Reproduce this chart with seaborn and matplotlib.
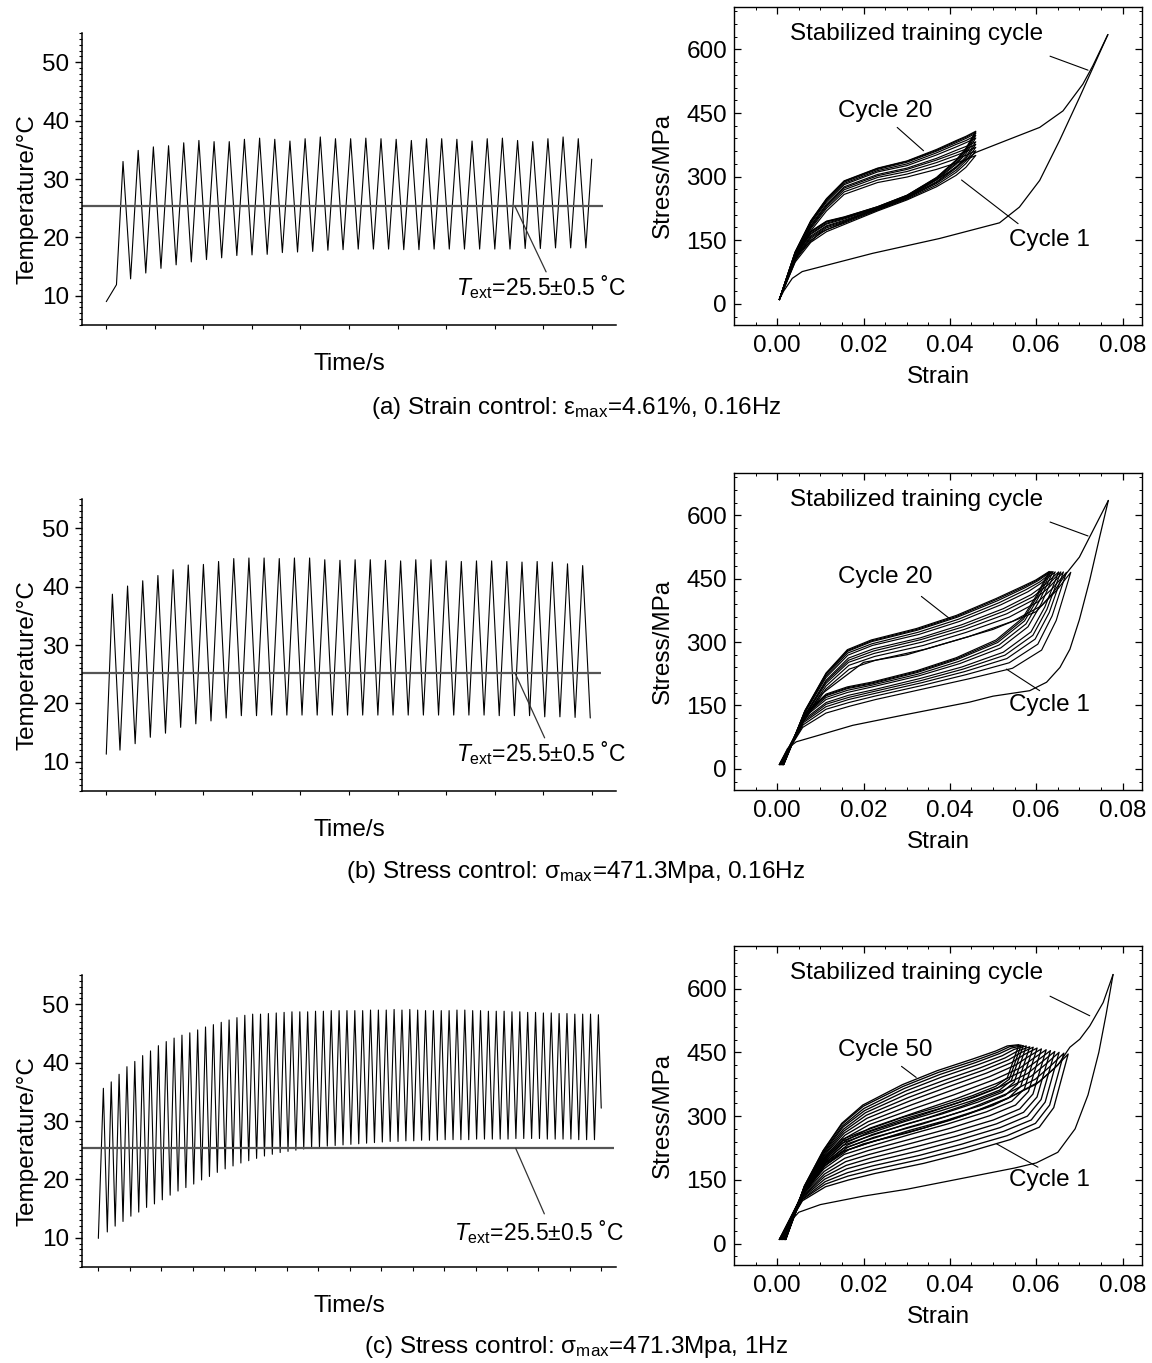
import numpy as np
import pandas as pd
import matplotlib
matplotlib.use("Agg")
import matplotlib.pyplot as plt
from matplotlib.ticker import MultipleLocator, FormatStrFormatter
import seaborn as sns

# ---------------- temperature traces (peak / valley of every cycle) ----------------
# time axis has no units on the figure, so it is expressed in tick spacings
# (a) strain control, 0.16 Hz
a_start = [(0.0, 9.0), (0.21, 11.9)]
a_t0, a_period = 0.345, 0.3126
a_peaks = [33.0, 34.9, 35.5, 35.7, 36.2, 36.6, 36.4, 36.4, 36.8, 37.0,
           36.8, 36.5, 36.9, 37.2, 36.9, 36.9, 37.0, 36.9, 36.8, 36.6,
           36.9, 36.9, 36.8, 36.5, 36.9, 37.0, 36.6, 36.4, 36.9, 37.2, 36.9]
a_valleys = [12.9, 13.9, 14.7, 15.3, 15.8, 16.2, 16.5, 16.9, 17.0, 17.1,
             17.4, 17.5, 17.6, 17.8, 17.9, 18.0, 18.0, 18.0, 17.9, 17.9,
             18.0, 18.0, 18.0, 18.0, 18.0, 18.0, 18.1, 18.1, 18.2, 18.2, 18.2]
a_end = (10.0, 33.4)

# (b) stress control, 0.16 Hz
b_start = [(0.0, 11.3)]
b_t0, b_period = 0.126, 0.3125
b_peaks = [38.7, 40.1, 41.0, 41.9, 42.9, 43.7, 43.8, 44.3, 44.8, 44.9,
           44.9, 44.8, 44.9, 44.9, 44.6, 44.5, 44.6, 44.6, 44.5, 44.4,
           44.6, 44.6, 44.4, 44.3, 44.4, 44.4, 44.3, 44.2, 44.3, 44.2, 43.9, 43.6]
b_valleys = [12.0, 13.1, 14.2, 14.9, 15.9, 16.5, 17.0, 17.5, 17.9, 17.9,
             18.0, 18.0, 18.0, 18.0, 18.0, 18.0, 18.0, 18.0, 18.0, 18.0,
             18.0, 18.0, 18.0, 18.0, 18.0, 17.9, 17.9, 17.9, 17.7, 17.7, 17.6, 17.5]
b_end = None

# (c) stress control, 1 Hz
c_start = [(0.0, 9.9)]
c_t0, c_period = 0.16, 0.25
c_peaks = [35.6, 36.7, 38.0, 39.3, 40.2, 41.2, 42.0, 42.9, 43.6, 44.2,
           44.7, 45.1, 45.6, 46.1, 46.5, 46.9, 47.3, 47.7, 48.1, 48.3,
           48.3, 48.4, 48.5, 48.6, 48.7, 48.7, 48.7, 48.8, 48.8, 48.9,
           48.9, 48.9, 48.9, 48.9, 49.0, 49.0, 49.0, 49.1, 49.0, 49.1,
           49.0, 48.9, 48.9, 48.9, 48.9, 49.0, 49.0, 48.9, 48.9, 48.8,
           48.8, 48.8, 48.7, 48.7, 48.6, 48.6, 48.5, 48.5, 48.4, 48.4,
           48.3, 48.3, 48.3, 48.2]
c_valleys = [11.0, 12.0, 12.8, 13.7, 14.4, 15.2, 15.8, 16.5, 17.3, 18.0,
             18.6, 19.2, 19.9, 20.5, 21.2, 21.8, 22.3, 22.8, 23.2, 23.6,
             24.0, 24.3, 24.6, 24.8, 25.0, 25.2, 25.4, 25.5, 25.7, 25.8,
             25.9, 26.0, 26.1, 26.2, 26.3, 26.4, 26.5, 26.5, 26.6, 26.6,
             26.7, 26.7, 26.7, 26.8, 26.8, 26.8, 26.8, 26.9, 26.9, 26.9,
             26.9, 26.9, 27.0, 27.0, 27.0, 27.0, 26.9, 26.9, 26.9, 26.9,
             26.8, 26.8, 26.8]
c_end = (16.0, 32.2)

t_ext = [25.3, 25.2, 25.3]

# ---------------- stress-strain loops ----------------
# each loop: stresses read at fractions of its own strain span (start -> tip)
u_frac = [0.0, 0.08, 0.16, 0.24, 0.33, 0.5, 0.65, 0.8, 0.9, 0.95, 1.0]

a_e0 = [0.0005] * 10
a_emax = [0.046] * 10
a_load = [
    [10, 106, 172, 219, 258, 286, 299, 317, 332, 340, 350],
    [10, 109, 177, 225, 264, 292, 306, 326, 342, 350, 361],
    [10, 111, 180, 229, 269, 298, 312, 333, 350, 359, 369],
    [10, 113, 183, 232, 273, 302, 317, 339, 356, 365, 376],
    [10, 115, 185, 235, 276, 305, 320, 343, 362, 371, 382],
    [10, 118, 189, 240, 281, 311, 326, 351, 370, 380, 391],
    [10, 119, 192, 243, 284, 314, 330, 356, 376, 385, 397],
    [10, 121, 194, 245, 287, 317, 334, 360, 380, 390, 402],
    [10, 121, 195, 247, 289, 319, 336, 362, 383, 393, 405],
    [10, 122, 196, 248, 290, 320, 337, 364, 385, 395, 407],
]
a_unload = [
    [10, 98, 145, 170, 187, 219, 245, 276, 303, 322, 350],
    [10, 102, 150, 175, 190, 221, 247, 280, 310, 331, 361],
    [10, 105, 154, 179, 193, 222, 249, 284, 315, 337, 369],
    [10, 107, 157, 182, 195, 224, 250, 286, 320, 343, 376],
    [10, 109, 160, 184, 197, 225, 251, 288, 323, 347, 382],
    [10, 112, 164, 188, 200, 226, 253, 292, 329, 354, 391],
    [10, 114, 166, 190, 202, 227, 254, 294, 332, 359, 397],
    [10, 116, 169, 193, 203, 228, 255, 296, 336, 363, 402],
    [10, 117, 170, 194, 204, 229, 256, 297, 338, 365, 405],
    [10, 118, 171, 195, 205, 229, 256, 298, 339, 367, 407],
]

b_e0 = [0.0005, 0.0007, 0.0008, 0.0010, 0.0011, 0.0012, 0.0013, 0.0014, 0.0015, 0.0015]
b_emax = [0.0680, 0.0670, 0.0663, 0.0657, 0.0652, 0.0644, 0.0639, 0.0635, 0.0632, 0.0630]
b_load = [
    [10, 109, 189, 236, 257, 283, 313, 349, 386, 421, 465],
    [10, 115, 196, 245, 266, 292, 323, 359, 395, 426, 465],
    [10, 119, 202, 252, 273, 300, 330, 367, 402, 430, 466],
    [10, 122, 207, 257, 279, 306, 336, 374, 407, 433, 466],
    [10, 125, 210, 262, 284, 310, 341, 379, 412, 436, 466],
    [10, 130, 216, 269, 292, 318, 349, 388, 419, 440, 466],
    [10, 133, 220, 274, 296, 323, 354, 393, 424, 442, 467],
    [10, 135, 224, 278, 301, 328, 359, 398, 428, 445, 467],
    [10, 137, 226, 280, 303, 330, 361, 401, 430, 446, 467],
    [10, 138, 227, 282, 305, 332, 363, 403, 432, 447, 467],
]
b_unload = [
    [10, 98, 132, 148, 164, 190, 213, 238, 281, 351, 465],
    [10, 104, 141, 157, 172, 198, 223, 251, 295, 362, 465],
    [10, 109, 147, 164, 178, 204, 230, 261, 307, 370, 466],
    [10, 113, 153, 169, 183, 209, 236, 269, 316, 377, 466],
    [10, 117, 157, 174, 187, 214, 241, 276, 324, 383, 466],
    [10, 122, 164, 181, 194, 220, 249, 286, 336, 392, 466],
    [10, 125, 169, 186, 198, 224, 254, 293, 343, 398, 467],
    [10, 128, 173, 190, 201, 228, 259, 299, 350, 403, 467],
    [10, 130, 175, 192, 203, 230, 261, 302, 354, 406, 467],
    [10, 131, 177, 194, 205, 232, 263, 305, 357, 408, 467],
]

c_e0 = [0.0005, 0.0006, 0.0008, 0.0009, 0.0010, 0.0012, 0.0013,
        0.0014, 0.0016, 0.0017, 0.0018, 0.0019, 0.0019, 0.0020]
c_emax = [0.0674, 0.0664, 0.0653, 0.0643, 0.0633, 0.0623, 0.0612,
          0.0602, 0.0593, 0.0585, 0.0577, 0.0570, 0.0565, 0.0560]
c_load = [
    [10, 114, 185, 221, 242, 272, 304, 345, 381, 411, 446],
    [10, 116, 188, 227, 250, 281, 313, 353, 387, 416, 448],
    [10, 118, 191, 232, 257, 290, 323, 361, 394, 421, 450],
    [10, 120, 194, 238, 265, 300, 332, 369, 400, 426, 452],
    [10, 122, 197, 243, 272, 309, 341, 377, 407, 430, 454],
    [10, 124, 200, 249, 280, 318, 350, 385, 413, 435, 456],
    [10, 126, 203, 255, 287, 327, 360, 393, 420, 440, 458],
    [10, 128, 206, 260, 295, 336, 369, 401, 426, 445, 460],
    [10, 130, 209, 265, 302, 344, 377, 408, 432, 449, 462],
    [10, 131, 212, 269, 308, 352, 384, 414, 437, 453, 463],
    [10, 133, 214, 274, 313, 359, 392, 421, 442, 457, 465],
    [10, 134, 216, 277, 318, 365, 398, 426, 447, 460, 466],
    [10, 135, 218, 281, 323, 370, 403, 430, 450, 463, 467],
    [10, 136, 219, 283, 326, 374, 407, 434, 453, 465, 468],
]
c_unload = [
    [10, 101, 134, 150, 165, 189, 215, 245, 274, 320, 446],
    [10, 104, 140, 159, 174, 199, 225, 254, 283, 326, 448],
    [10, 106, 146, 167, 183, 208, 234, 264, 291, 333, 450],
    [10, 109, 152, 176, 192, 218, 244, 273, 300, 339, 452],
    [10, 111, 158, 184, 201, 228, 253, 282, 309, 345, 454],
    [10, 114, 164, 193, 210, 238, 263, 291, 317, 352, 456],
    [10, 117, 170, 201, 219, 247, 272, 301, 326, 358, 458],
    [10, 119, 176, 210, 227, 257, 282, 310, 335, 364, 460],
    [10, 122, 181, 218, 235, 266, 290, 318, 342, 370, 462],
    [10, 124, 186, 224, 242, 273, 298, 325, 349, 375, 463],
    [10, 126, 190, 231, 249, 281, 305, 333, 356, 380, 465],
    [10, 127, 194, 237, 255, 287, 312, 339, 361, 384, 466],
    [10, 129, 197, 241, 260, 293, 317, 344, 366, 387, 467],
    [10, 130, 200, 245, 264, 297, 321, 348, 370, 390, 468],
]

# stabilized training cycle (strain, stress)
a_stab_load = ([0.0005, 0.005, 0.01, 0.02, 0.03, 0.04, 0.046, 0.053, 0.0608, 0.0662, 0.0708, 0.0731, 0.0766],
               [10, 120, 168, 212, 250, 312, 357, 385, 416, 455, 518, 561, 635])
a_stab_unload = ([0.0766, 0.07, 0.0654, 0.0608, 0.0561, 0.0515, 0.0376, 0.0221, 0.0058, 0.0035, 0.0015, 0.0005],
                 [635, 486, 385, 291, 228, 191, 154, 119, 76, 60, 30, 10])
b_stab_load = ([0.0005, 0.005, 0.01, 0.02, 0.03, 0.04, 0.05, 0.06, 0.064, 0.0668, 0.07, 0.0724, 0.0767],
               [10, 95, 175, 252, 270, 300, 330, 372, 418, 460, 501, 549, 635])
b_stab_unload = ([0.0767, 0.0747, 0.0724, 0.07, 0.0678, 0.0655, 0.0624, 0.0585, 0.05, 0.0446, 0.0291,
                  0.0175, 0.0098, 0.0044, 0.0024, 0.0005],
                 [635, 549, 447, 353, 283, 240, 205, 185, 172, 158, 127, 103, 80, 64, 48, 10])
c_stab_load = ([0.0005, 0.005, 0.01, 0.015, 0.02, 0.03, 0.04, 0.05, 0.06, 0.065, 0.0678, 0.0701, 0.0724, 0.0755, 0.0778],
               [10, 100, 175, 215, 235, 260, 290, 325, 375, 420, 462, 481, 512, 567, 633])
c_stab_unload = ([0.0778, 0.0762, 0.0745, 0.072, 0.069, 0.065, 0.06, 0.055, 0.05, 0.04, 0.03, 0.02, 0.01,
                  0.005, 0.003, 0.0013, 0.0005],
                 [633, 540, 450, 350, 270, 215, 190, 178, 168, 148, 128, 112, 92, 74, 52, 20, 10])

last_cycle = ["Cycle 20", "Cycle 20", "Cycle 50"]
captions = ["(a) Strain control: ε$_{\\rm max}$=4.61%, 0.16Hz",
            "(b) Stress control: σ$_{\\rm max}$=471.3Mpa, 0.16Hz",
            "(c) Stress control: σ$_{\\rm max}$=471.3Mpa, 1Hz"]

# ---------------- style ----------------
sns.set_theme(style="ticks")
plt.rcParams['font.family'] = ['Liberation Sans', 'DejaVu Sans']
plt.rcParams.update({
    'mathtext.fontset': 'custom',
    'mathtext.rm': 'Liberation Sans',
    'mathtext.it': 'Liberation Sans:italic',
    'mathtext.bf': 'Liberation Sans:bold',
    'text.color': 'black', 'axes.labelcolor': 'black', 'axes.edgecolor': 'black',
    'xtick.color': 'black', 'ytick.color': 'black',
})
FS = 17.5
W, H = 1152, 1363


def temp_trace(start, t0, period, peaks, valleys, end):
    t = [p[0] for p in start]
    T = [p[1] for p in start]
    for k, pk in enumerate(peaks):
        t.append(t0 + k * period)
        T.append(pk)
        if k < len(valleys):
            t.append(t0 + (k + 0.5) * period)
            T.append(valleys[k])
    if end is not None:
        t.append(end[0])
        T.append(end[1])
    return pd.DataFrame({"time": t, "temp": T})


def box(left, top, right, bottom):
    return [left / W, 1 - bottom / H, (right - left) / W, (bottom - top) / H]


fig = plt.figure(figsize=(W / 100, H / 100), dpi=100)

# left panels: temperature
temp_sets = [
    (a_start, a_t0, a_period, a_peaks, a_valleys, a_end, 10, (-0.5, 10.5), 10.23, (8.42, 9.06), 7.2, 11.5),
    (b_start, b_t0, b_period, b_peaks, b_valleys, b_end, 10, (-0.5, 10.5), 10.2, (8.42, 9.03), 7.2, 11.5),
    (c_start, c_t0, c_period, c_peaks, c_valleys, c_end, 16, (-0.52, 16.47), 16.4, (13.28, 14.19), 11.32, 11.0),
]
left_tops = [33, 499, 975]
for i, (st, t0, per, pk, vl, en, nt, xl, line_end, ptr_x, tx, ty) in enumerate(temp_sets):
    top = left_tops[i]
    ax = fig.add_axes(box(82, top, 616, top + 292))
    df = temp_trace(st, t0, per, pk, vl, en)
    sns.lineplot(data=df, x="time", y="temp", ax=ax, color="black", lw=0.8,
                 sort=False, estimator=None)
    ax.hlines(t_ext[i], xl[0], line_end, color="#555555", lw=1.6)
    ax.plot(ptr_x, [t_ext[i], 14.1], color="#333333", lw=0.9)
    ax.text(tx, ty, r"$T_{\rm ext}$=25.5±0.5 ˚C", fontsize=16.5, ha="left", va="center")
    ax.set_xlim(*xl)
    ax.set_ylim(5, 55)
    ax.set_xticks(range(0, nt + 1))
    ax.set_xticklabels([])
    ax.set_yticks([10, 20, 30, 40, 50])
    ax.yaxis.set_minor_locator(MultipleLocator(1))
    ax.tick_params(axis="x", direction="out", length=3, width=0.8)
    ax.tick_params(axis="y", which="major", direction="out", length=5, width=1, labelsize=FS, pad=4)
    ax.tick_params(axis="y", which="minor", direction="out", length=2.5, width=0.8)
    sns.despine(ax=ax)
    for s in ["left", "bottom"]:
        ax.spines[s].set_linewidth(1.1)
    ax.set_xlabel("Time/s", fontsize=FS)
    ax.set_ylabel("Temperature/°C", fontsize=FS)
    ax.xaxis.set_label_coords(0.5, -0.097)
    ax.yaxis.set_label_coords(-0.0815, 0.433)

# right panels: stress-strain
loop_sets = [
    (a_e0, a_emax, a_load, a_unload, a_stab_load, a_stab_unload,
     [(0.0632, 0.072), (584, 551)], [(0.0278, 0.0339), (416, 361)], [(0.0427, 0.0558), (292, 189)]),
    (b_e0, b_emax, b_load, b_unload, b_stab_load, b_stab_unload,
     [(0.0632, 0.072), (584, 551)], [(0.0334, 0.040), (408, 355)], [(0.0531, 0.0608), (236, 185)]),
    (c_e0, c_emax, c_load, c_unload, c_stab_load, c_stab_unload,
     [(0.0632, 0.0724), (582, 536)], [(0.0288, 0.0322), (417, 391)], [(0.0508, 0.0604), (235, 180)]),
]
loop_lw = [0.85, 0.85, 0.95]
right_tops = [(7, 325), (473, 790), (946, 1265)]
u = np.array(u_frac)
for i, (e0s, emaxs, loads, unloads, sl, su, p_stab, p_last, p_first) in enumerate(loop_sets):
    top, bot = right_tops[i]
    ax = fig.add_axes(box(734, top, 1142, bot))
    for e0, em, ld, ul in zip(e0s, emaxs, loads, unloads):
        strain = e0 + u * (em - e0)
        x = np.concatenate([strain, strain[::-1]])
        y = np.concatenate([ld, ul[::-1]])
        sns.lineplot(x=x, y=y, ax=ax, color="black", lw=loop_lw[i], sort=False, estimator=None)
    sns.lineplot(x=sl[0], y=sl[1], ax=ax, color="black", lw=0.9, sort=False, estimator=None)
    sns.lineplot(x=su[0], y=su[1], ax=ax, color="black", lw=0.9, sort=False, estimator=None)
    for p in (p_stab, p_last, p_first):
        ax.plot(p[0], p[1], color="black", lw=0.8)
    ax.text(0.003, 636, "Stabilized training cycle", fontsize=FS, ha="left", va="center")
    ax.text(0.014, 455, last_cycle[i], fontsize=FS, ha="left", va="center")
    ax.text(0.0537, 150, "Cycle 1", fontsize=FS, ha="left", va="center")
    ax.set_xlim(-0.01, 0.0845)
    ax.set_ylim(-50, 700)
    ax.set_xticks([0, 0.02, 0.04, 0.06, 0.08])
    ax.set_yticks([0, 150, 300, 450, 600])
    ax.xaxis.set_major_formatter(FormatStrFormatter("%.2f"))
    ax.xaxis.set_minor_locator(MultipleLocator(0.005))
    ax.yaxis.set_minor_locator(MultipleLocator(30))
    ax.tick_params(which="both", direction="in", top=True, right=True)
    ax.tick_params(which="major", length=5, width=0.9, labelsize=FS, pad=5)
    ax.tick_params(axis="x", which="major", pad=7)
    ax.tick_params(which="minor", length=2.5, width=0.7)
    for s in ax.spines.values():
        s.set_linewidth(1.0)
    ax.set_xlabel("Strain", fontsize=FS)
    ax.set_ylabel("Stress/MPa", fontsize=FS)
    ax.xaxis.set_label_coords(0.5, -0.128)
    ax.yaxis.set_label_coords(-0.148, 0.47)

cap_y = [408, 872, 1347]
for cy, txt in zip(cap_y, captions):
    fig.text(0.5, 1 - cy / H, txt, fontsize=FS, ha="center", va="center")

fig.savefig("out.png", dpi=100)
